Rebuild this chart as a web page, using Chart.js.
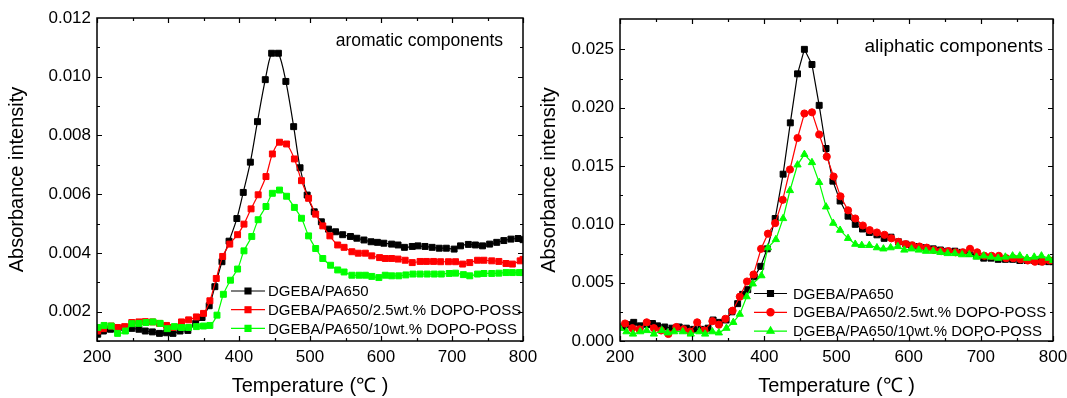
<!DOCTYPE html>
<html><head><meta charset="utf-8">
<script src="https://cdn.jsdelivr.net/npm/chart.js@4.4.1/dist/chart.umd.min.js"></script>
<style>
html,body{margin:0;padding:0;background:#fff;}
#wrap{position:relative;width:1067px;height:398px;overflow:hidden;}
canvas{position:absolute;left:0;top:0;}
</style></head>
<body><div id="wrap"><canvas id="c1" width="1067" height="398"></canvas><canvas id="c2" width="1067" height="398"></canvas></div>
<script>
// ---- tick labels ----
const xTicks = [200, 300, 400, 500, 600, 700, 800];
const yTicksAro = [0.002, 0.004, 0.006, 0.008, 0.010, 0.012];
const yTicksAli = [0.000, 0.005, 0.010, 0.015, 0.020, 0.025];
const seriesNames = ['DGEBA/PA650', 'DGEBA/PA650/2.5wt.% DOPO-POSS', 'DGEBA/PA650/10wt.% DOPO-POSS'];
const panelTitles = ['aromatic components', 'aliphatic components'];

// ---- aromatic components: [temperature, absorbance] ----
const aroBlack = [[201,0.00123],[209,0.00134],[219,0.0014],[229,0.0014],[239,0.00145],[249,0.00143],[259,0.0014],[268,0.00134],[278,0.00131],[288,0.00126],[298,0.00128],[307,0.00126],[317,0.00134],[328,0.00136],[339,0.0016],[348,0.0018],[358,0.0022],[366,0.00285],[376,0.0037],[386,0.0044],[397,0.00517],[406,0.00606],[416,0.00709],[426,0.00847],[437,0.0099],[446,0.0108],[455.5,0.0108],[466,0.00984],[477,0.0083],[486,0.0069],[496,0.00597],[506,0.0054],[516,0.00506],[526,0.00481],[536,0.00472],[546,0.00462],[557,0.00456],[566,0.0045],[576,0.00444],[586,0.00438],[595,0.00436],[604,0.00433],[615,0.0043],[624,0.00427],[633,0.00419],[644,0.00422],[652,0.00424],[662,0.00422],[672,0.00419],[682,0.00416],[692,0.00416],[703,0.00413],[712,0.00424],[723,0.00429],[733,0.00427],[743,0.00424],[753,0.0043],[763,0.00436],[773,0.00442],[783,0.00447],[793,0.00449],[800,0.00445]];
const aroRed = [[201,0.00134],[209,0.00142],[220,0.00151],[229,0.00146],[239,0.00149],[249,0.00163],[259,0.00165],[268,0.00166],[278,0.00165],[288,0.0016],[298,0.00153],[307,0.00146],[319,0.00165],[329,0.00172],[340,0.00182],[350,0.00194],[359,0.00237],[368,0.00313],[377,0.00388],[387,0.0043],[398,0.00462],[407,0.00498],[417,0.0055],[427,0.00598],[438,0.0066],[447,0.00737],[457,0.00777],[467,0.00771],[478,0.0072],[488,0.00646],[498,0.00586],[508,0.00532],[518,0.00492],[528,0.00458],[539,0.00427],[548,0.00419],[559,0.00404],[568,0.00399],[578,0.00399],[587,0.0039],[598,0.00384],[606,0.00381],[615,0.00381],[624,0.00379],[634,0.00375],[644,0.00367],[655,0.00371],[664,0.00371],[674,0.00371],[684,0.0037],[695,0.0037],[705,0.0037],[715,0.00362],[725,0.00367],[736,0.00375],[745,0.00375],[756,0.00373],[766,0.00371],[776,0.00364],[785,0.00362],[796,0.00373],[800,0.00378]];
const aroGreen = [[201,0.00146],[210,0.00153],[220,0.00151],[229,0.00126],[240,0.00134],[249,0.00159],[259,0.0016],[269,0.00163],[279,0.00165],[289,0.0016],[299,0.00142],[309,0.00149],[319,0.00146],[329,0.00146],[340,0.00149],[350,0.00151],[359,0.00153],[369,0.00188],[378,0.00259],[388,0.00307],[398,0.00345],[407,0.00407],[418,0.00456],[427,0.00513],[438,0.00558],[447,0.00603],[457,0.00614],[467,0.00593],[478,0.00555],[488,0.00518],[498,0.00458],[508,0.00415],[518,0.00381],[529,0.00358],[539,0.00342],[548,0.00335],[559,0.00324],[569,0.00324],[578,0.00324],[587,0.0032],[597,0.00316],[606,0.00324],[615,0.00322],[625,0.00322],[635,0.00325],[645,0.00328],[655,0.00328],[665,0.00328],[675,0.00328],[685,0.00328],[696,0.0033],[705,0.00331],[716,0.00326],[725,0.00322],[736,0.00328],[745,0.0033],[756,0.0033],[766,0.00331],[776,0.00333],[785,0.00333],[795,0.00333],[800,0.00333]];

// ---- aliphatic components: [temperature, absorbance] ----
const aliBlack = [[204,0.0012],[212,0.0014],[219,0.0016],[228,0.0013],[238,0.0014],[245,0.0015],[252,0.0013],[262,0.0012],[272,0.0011],[282,0.0012],[292,0.0011],[302,0.0010],[312,0.0010],[322,0.0011],[329,0.0018],[338,0.0016],[347,0.0018],[355,0.0025],[363,0.0032],[370,0.0040],[377,0.0044],[386,0.0055],[395,0.0064],[404,0.0079],[415,0.0105],[426,0.0143],[436,0.0187],[446,0.0229],[455.5,0.0250],[466,0.0237],[476,0.0202],[485.5,0.0165],[495,0.0137],[505,0.0120],[516,0.0107],[526,0.0100],[536,0.0096],[545.5,0.0093],[556,0.0091],[566,0.0088],[575.5,0.0089],[586,0.0085],[596,0.0083],[604,0.0082],[614,0.0081],[624,0.0080],[634,0.0079],[644,0.0078],[654,0.0077],[664,0.0077],[674,0.0076],[684,0.0075],[694,0.0073],[704,0.0071],[714,0.0071],[724,0.0070],[734,0.0070],[744,0.0070],[754,0.0069],[764,0.0069],[774,0.0069],[784,0.0068],[794,0.0068],[800,0.0068]];
const aliRed = [[207,0.0015],[217,0.0011],[227,0.0010],[237,0.0016],[247,0.0011],[257,0.0009],[267,0.0006],[278,0.0012],[288,0.0010],[297,0.0008],[307,0.0016],[317,0.0009],[328,0.0017],[337,0.0014],[346,0.0019],[356,0.0026],[366,0.0038],[376,0.0051],[385,0.0057],[395.5,0.0079],[405,0.0092],[415,0.0101],[425.5,0.0121],[435.5,0.0147],[446,0.0174],[455.5,0.0195],[466,0.0196],[476,0.0177],[486.5,0.0158],[496,0.0141],[505.5,0.0124],[516,0.0112],[526,0.0105],[536.5,0.0099],[546,0.0095],[556,0.0093],[566.5,0.0091],[576,0.0088],[586,0.0085],[596,0.0083],[605,0.0082],[615,0.0081],[625,0.0080],[635,0.0078],[645,0.0077],[655,0.0077],[665,0.0076],[675,0.0076],[685,0.0079],[695,0.0076],[705,0.0073],[715,0.0073],[725,0.0073],[735,0.0071],[745,0.0071],[755,0.0070],[765,0.0069],[775,0.0068],[785,0.0068],[795,0.0069],[800,0.0069]];
const aliGreen = [[200,0.0011],[209,0.0008],[218,0.0006],[228,0.0008],[237,0.0009],[247,0.0006],[258,0.0009],[266,0.0007],[275,0.0008],[287,0.0008],[298,0.0006],[310,0.0008],[318,0.0006],[328,0.0008],[337,0.0007],[347.5,0.0011],[357,0.0016],[366,0.0023],[375.5,0.0038],[384,0.0049],[396,0.0056],[405,0.0080],[416,0.0087],[426,0.0105],[435.5,0.0129],[446,0.0151],[455.5,0.0160],[466,0.0153],[476,0.0136],[485.5,0.0115],[495.5,0.0101],[505,0.0095],[516,0.0088],[526,0.0083],[535,0.0082],[545.5,0.0082],[556,0.0080],[565,0.0079],[575,0.0080],[585,0.0081],[594,0.0078],[604,0.0079],[614,0.0078],[624,0.0077],[634,0.0077],[644,0.0076],[654,0.0075],[664,0.0075],[674,0.0074],[684,0.0074],[694,0.0072],[704,0.0073],[714,0.0072],[724,0.0071],[734,0.0072],[744,0.0073],[754,0.0073],[764,0.0071],[774,0.0072],[784,0.0073],[794,0.0071],[800,0.0069]];

// ---- styling / layout ----
const FONT = "'Liberation Sans', Arial, sans-serif";
const COLORS = ['#000000', '#ff0000', '#00ff00'];
const toXY = arr => arr.map(p => ({x: p[0], y: p[1]}));

const decorPlugin = {
  id: 'decor',
  afterDraw(chart, args, o) {
    const {ctx, chartArea: {left, right, top, bottom}, scales: {x, y}} = chart;
    ctx.save();
    ctx.strokeStyle = '#000';
    ctx.lineWidth = 1.2;
    ctx.beginPath();
    const isMajor = (v, step) => Math.abs(v / step - Math.round(v / step)) < 1e-6;
    for (let k = 0; ; k++) {
      const v = x.min + k * o.xMinor;
      if (v > x.max + 1e-9) break;
      const px = Math.round(x.getPixelForValue(v)) + 0.5;
      const len = isMajor(v, o.xMajor) ? 5 : 3;
      ctx.moveTo(px, bottom); ctx.lineTo(px, bottom - len);
      ctx.moveTo(px, top); ctx.lineTo(px, top + len);
    }
    for (let k = 0; ; k++) {
      const v = y.min + k * o.yMinor;
      if (v > y.max - o.yMinor * 0.3) break;
      const py = Math.round(y.getPixelForValue(v)) + 0.5;
      const len = isMajor(v, o.yMajor) ? 5 : 3;
      ctx.moveTo(left, py); ctx.lineTo(left + len, py);
      ctx.moveTo(right, py); ctx.lineTo(right - len, py);
    }
    ctx.stroke();
    ctx.lineWidth = 1.5;
    ctx.strokeRect(left, top, right - left, bottom - top);

    // panel label
    ctx.fillStyle = '#000';
    ctx.font = o.noteSize + 'px ' + FONT;
    ctx.textAlign = 'right';
    ctx.textBaseline = 'middle';
    ctx.fillText(o.note, o.noteX, o.noteY);

    // legend
    ctx.font = '15px ' + FONT;
    ctx.textAlign = 'left';
    chart.data.datasets.forEach((ds, i) => {
      const ly = o.legY + i * o.legRow;
      ctx.strokeStyle = ds.borderColor;
      ctx.lineWidth = ds.borderWidth;
      ctx.beginPath();
      ctx.moveTo(o.legX0, ly); ctx.lineTo(o.legX1, ly);
      ctx.stroke();
      ctx.fillStyle = ds.pointBackgroundColor;
      ctx.strokeStyle = ds.pointBorderColor;
      Chart.helpers.drawPoint(ctx, {pointStyle: ds.pointStyle, radius: ds.pointRadius, rotation: 0, borderWidth: 1}, (o.legX0 + o.legX1) / 2, ly);
      ctx.fillStyle = '#000';
      ctx.fillText(ds.label, o.legTextX, ly + 1);
    });
    ctx.restore();
  }
};

function makeDataset(label, arr, color, style, radius, tension, order) {
  return {
    label, data: toXY(arr), borderColor: color, backgroundColor: color,
    pointBackgroundColor: color, pointBorderColor: color, pointBorderWidth: 1,
    pointStyle: style, pointRadius: radius, borderWidth: 1.2, tension, order
  };
}

function makeChart(id, cfg) {
  return new Chart(document.getElementById(id), {
    type: 'line',
    data: {datasets: cfg.datasets},
    options: {
      responsive: false, animation: false, devicePixelRatio: 1,
      layout: {padding: cfg.padding},
      plugins: {legend: {display: false}, tooltip: {enabled: false}, decor: cfg.decor},
      scales: {
        x: {
          type: 'linear', position: 'bottom', min: 200, max: 800,
          grid: {display: false, drawTicks: false}, border: {display: false},
          ticks: {color: '#000', font: {family: FONT, size: 17}, padding: 6, maxRotation: 0},
          afterBuildTicks: s => { s.ticks = xTicks.map(v => ({value: v})); },
          afterFit: s => { s.height = 57; s.paddingLeft = 0; s.paddingRight = 0; },
          title: {display: true, text: 'Temperature (℃ )', color: '#000', font: {family: FONT, size: 20}, padding: {top: 0, bottom: 0}}
        },
        y: {
          type: 'linear', position: 'left', min: cfg.yMin, max: cfg.yMax,
          grid: {display: false, drawTicks: false}, border: {display: false},
          ticks: {color: '#000', font: {family: FONT, size: 17}, padding: 6, callback: v => v.toFixed(3)},
          afterBuildTicks: s => { s.ticks = cfg.yTicks.map(v => ({value: v})); },
          afterFit: s => { s.width = cfg.yWidth; s.paddingTop = 0; s.paddingBottom = 0; },
          title: {display: true, text: 'Absorbance intensity', color: '#000', font: {family: FONT, size: 20}, padding: {top: 5, bottom: 0}}
        }
      }
    },
    plugins: [decorPlugin]
  });
}

makeChart('c1', {
  datasets: [
    makeDataset(seriesNames[0], aroBlack, COLORS[0], 'rect', 4.2, 0.3, 3),
    makeDataset(seriesNames[1], aroRed, COLORS[1], 'rect', 4.2, 0.3, 2),
    makeDataset(seriesNames[2], aroGreen, COLORS[2], 'rect', 4.2, 0.3, 1)
  ],
  padding: {left: 0, top: 18, right: 544, bottom: 0},
  yMin: 0.001, yMax: 0.012, yTicks: yTicksAro, yWidth: 97,
  decor: {xMinor: 50, xMajor: 100, yMinor: 0.001, yMajor: 0.002,
    note: panelTitles[0], noteSize: 17.5, noteX: 503, noteY: 41,
    legX0: 231, legX1: 265, legTextX: 268, legY: 291, legRow: 18.7}
});

makeChart('c2', {
  datasets: [
    makeDataset(seriesNames[0], aliBlack, COLORS[0], 'rect', 4.2, 0, 3),
    makeDataset(seriesNames[1], aliRed, COLORS[1], 'circle', 3.6, 0, 2),
    makeDataset(seriesNames[2], aliGreen, COLORS[2], 'triangle', 4.2, 0, 1)
  ],
  padding: {left: 532, top: 19, right: 14, bottom: 0},
  yMin: 0, yMax: 0.0276, yTicks: yTicksAli, yWidth: 88,
  decor: {xMinor: 50, xMajor: 100, yMinor: 0.0025, yMajor: 0.005,
    note: panelTitles[1], noteSize: 19, noteX: 1043, noteY: 47,
    legX0: 754, legX1: 787, legTextX: 793, legY: 293.5, legRow: 18.8}
});
</script>
</body></html>
